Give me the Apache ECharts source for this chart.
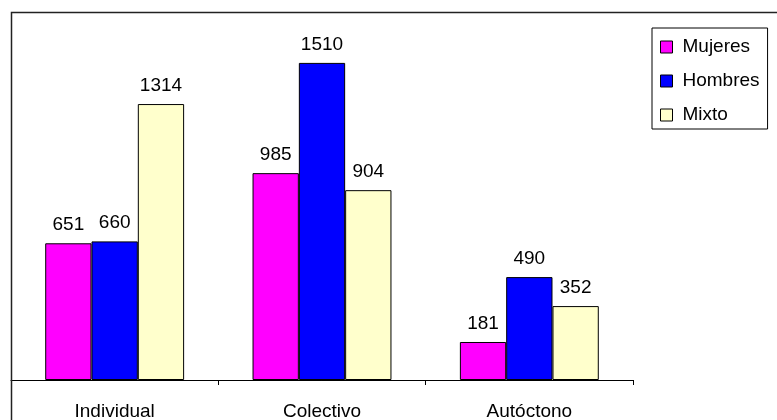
<!DOCTYPE html>
<html>
<head>
<meta charset="utf-8">
<script src="https://cdn.jsdelivr.net/npm/echarts@6/dist/echarts.min.js"></script>
<style>
html,body{margin:0;padding:0;background:#fff;}
#chart{width:777px;height:420px;}
</style>
</head>
<body>
<div id="chart"></div>
<script>
var categories = ['Individual', 'Colectivo', 'Autóctono'];
var mujeres = [651, 985, 181];
var hombres = [660, 1510, 490];
var mixto = [1314, 904, 352];
var seriesNames = ['Mujeres', 'Hombres', 'Mixto'];

var FONT = 'Liberation Sans, Arial, sans-serif';
var chart = echarts.init(document.getElementById('chart'), null, {renderer: 'canvas'});

function mk(name, data, color) {
  return {
    name: name,
    type: 'bar',
    data: data,
    barGap: '0%',
    barCategoryGap: '33%',
    itemStyle: {color: color, borderColor: '#000', borderWidth: 1},
    label: {
      show: true, position: 'top', distance: 9,
      color: '#000', fontFamily: FONT, fontSize: 19
    }
  };
}

chart.setOption({
  animation: false,
  backgroundColor: '#fff',
  grid: {left: 11, right: 144, top: 44, bottom: 40, containLabel: false, outerBoundsMode: 'none'},
  xAxis: {
    type: 'category',
    data: categories,
    axisLine: {show: true, lineStyle: {color: '#000', width: 1}},
    axisTick: {show: true, alignWithLabel: false, length: 5, lineStyle: {color: '#000'}},
    axisLabel: {color: '#000', fontFamily: FONT, fontSize: 19, margin: 22}
  },
  yAxis: {
    type: 'value', min: 0, max: 1600, interval: 200,
    show: false,
    splitLine: {show: false}
  },
  legend: {
    orient: 'vertical',
    left: 652, top: 28,
    padding: [9, 8, 4, 8],
    borderColor: '#000', borderWidth: 1,
    itemWidth: 12, itemHeight: 12, itemGap: 14,
    icon: 'rect',
    itemStyle: {borderColor: '#000', borderWidth: 1},
    textStyle: {color: '#000', fontFamily: FONT, fontSize: 19, lineHeight: 20, padding: [0, 0, 0, 5]},
    data: seriesNames
  },
  graphic: [{
    type: 'rect',
    shape: {x: 11.5, y: 12.5, width: 900, height: 600},
    style: {fill: null, stroke: '#222', lineWidth: 1.5},
    silent: true, z: 100
  }],
  series: [
    mk(seriesNames[0], mujeres, '#FF00FF'),
    mk(seriesNames[1], hombres, '#0000FF'),
    mk(seriesNames[2], mixto, '#FFFFCC')
  ]
});
</script>
</body>
</html>
